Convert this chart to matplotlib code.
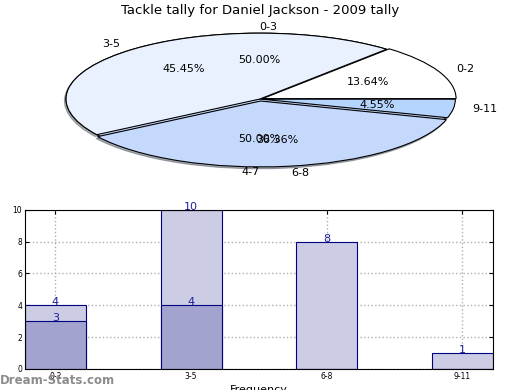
import matplotlib
matplotlib.use('Agg')
import matplotlib.pyplot as plt

# data
ranges = ['0-2', '3-5', '6-8', '9-11']
tally = [3, 10, 8, 1]
halves = ['0-3', '4-7']
half_tally = [4, 4]
freq_all = [4, 10, 8, 1]
freq_sub = [3, 4, 0, 0]

pie_colors = ['#ffffff', '#eaf1fe', '#c5d9fc', '#b5d5fe']

fig = plt.figure(figsize=(5.2, 3.9), dpi=100)
fig.text(0.5, 0.972, 'Tackle tally for Daniel Jackson - 2009 tally',
         ha='center', va='center', fontsize=9.5)

# pie (squashed into an ellipse)
ax1 = fig.add_axes([0.127, 0.577, 0.745, 0.338])
w2, t2, a2 = ax1.pie(half_tally, labels=halves, autopct='%.2f%%', colors=['#eaf1fe', '#c5d9fc'],
                     textprops={'fontsize': 8}, wedgeprops={'linewidth': 0.8, 'edgecolor': 'black'})
t2[0].set_ha('left')
t2[1].set_ha('right')
ax1.pie(tally, labels=ranges, autopct='%.2f%%', colors=pie_colors,
        shadow={'ox': -0.006, 'oy': -0.02, 'shade': 0.6},
        explode=(0.015, 0, 0.03, 0.01), textprops={'fontsize': 8},
        wedgeprops={'linewidth': 0.8, 'edgecolor': 'black'})
ax1.set_aspect('auto')
ax1.set_xlim(-1, 1)
ax1.set_ylim(-1, 1)

# bars
ax2 = fig.add_axes([0.048, 0.054, 0.9, 0.408])
x = range(len(ranges))
ax2.bar(x, freq_all, width=0.45, color='#ccccE5', edgecolor='#000080', linewidth=0.8, zorder=2)
ax2.bar(x, freq_sub, width=0.45, color='#a3a3d0', edgecolor='#000080', linewidth=0.8, zorder=2)
for i in x:
    ax2.text(i, freq_all[i] - 0.12, str(freq_all[i]), ha='center', va='bottom',
             color='#1f1f9f', fontsize=8, zorder=3)
    if freq_sub[i] > 0:
        ax2.text(i, freq_sub[i] - 0.12, str(freq_sub[i]), ha='center', va='bottom',
                 color='#1f1f9f', fontsize=8, zorder=3)
ax2.set_xlim(-0.225, 3.225)
ax2.set_ylim(0, 10)
ax2.set_yticks(range(0, 11, 2))
ax2.set_xticks(list(x))
ax2.set_xticklabels(ranges)
ax2.tick_params(labelsize=5.5, direction='in', length=3, right=True, top=True, pad=2)
ax2.grid(True, linestyle=':', color='#b0b0b0', linewidth=1, zorder=0)
ax2.set_axisbelow(True)
ax2.set_xlabel('Frequency', fontsize=8, labelpad=3)

fig.text(0.0, 0.024, 'Dream-Stats.com', color='#8c8c8c', fontsize=8.5,
         fontweight='bold', ha='left', va='center')

fig.savefig('out.png', dpi=100)
